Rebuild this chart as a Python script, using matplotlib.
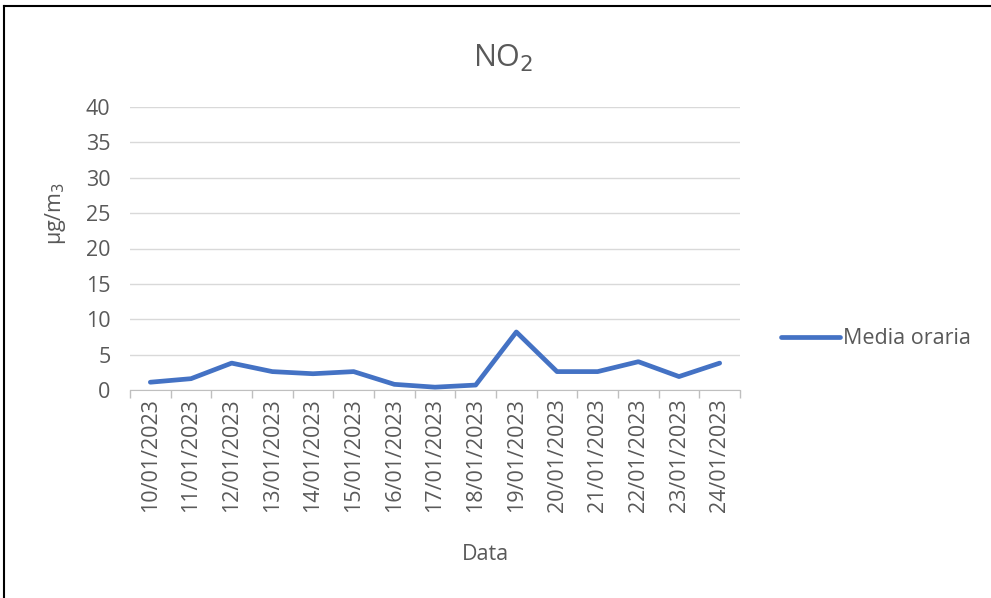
import numpy as np
import matplotlib.pyplot as plt
from matplotlib.lines import Line2D

dates = ["10/01/2023", "11/01/2023", "12/01/2023", "13/01/2023", "14/01/2023",
         "15/01/2023", "16/01/2023", "17/01/2023", "18/01/2023", "19/01/2023",
         "20/01/2023", "21/01/2023", "22/01/2023", "23/01/2023", "24/01/2023"]
media_oraria = [1.1, 1.6, 3.8, 2.6, 2.3, 2.6, 0.8, 0.4, 0.7, 8.2,
                2.6, 2.6, 4.0, 1.9, 3.8]
y_ticks = [0, 5, 10, 15, 20, 25, 30, 35, 40]

plt.rcParams["font.family"] = ["Open Sans", "DejaVu Sans"]
grey = "#595959"
fs = 15.5

fig = plt.figure(figsize=(9.91, 5.98), dpi=100)
ax = fig.add_axes([130 / 991, 1 - 390 / 598, 610 / 991, 283 / 598])

x = np.arange(len(dates))
ax.plot(x, media_oraria, color="#4472C4", linewidth=3.4,
        solid_joinstyle="round", solid_capstyle="round", label="Media oraria")

ax.set_xlim(-0.5, len(dates) - 0.5)
ax.set_ylim(0, 40)
ax.set_yticks(y_ticks)
ax.set_xticks(x)
ax.set_xticklabels(dates, rotation=90)
ax.set_xticks(np.arange(len(dates) + 1) - 0.5, minor=True)
ax.tick_params(axis="x", which="major", length=0, pad=6, labelsize=fs, labelcolor=grey)
ax.tick_params(axis="x", which="minor", length=6, color="#bfbfbf", width=1)
ax.tick_params(axis="y", length=0, pad=14, labelsize=fs, labelcolor=grey)

ax.grid(axis="y", color="#d9d9d9", linewidth=1)
ax.set_axisbelow(True)
for side in ["top", "right", "left"]:
    ax.spines[side].set_visible(False)
ax.spines["bottom"].set_color("#bfbfbf")
ax.spines["bottom"].set_zorder(0.5)

ax.set_xlabel("Data", fontsize=fs, color=grey)
ax.xaxis.set_label_coords((485 - 130) / 610, -(555 - 390) / 283)
ax.xaxis.label.set_va("center")
ax.set_ylabel("µg/m$_3$", fontsize=fs, color=grey)
ax.yaxis.set_label_coords(-(130 - 55) / 610, (390 - 213) / 283)
ax.yaxis.label.set_va("center")
fig.text(503 / 991, 1 - 58 / 598, "NO$_2$", ha="center", va="center",
         fontsize=22, color=grey)

ax.legend(loc="center left", bbox_to_anchor=(781 / 991, 1 - 339 / 598),
          bbox_transform=fig.transFigure, frameon=False, fontsize=fs,
          labelcolor=grey, handlelength=2.75, handletextpad=0.12,
          borderaxespad=0, borderpad=0)

# screenshot frame (left and top edges only)
fig.add_artist(Line2D([4 / 991, 4 / 991], [0, 1 - 6 / 598], color="black",
                      linewidth=1.5, transform=fig.transFigure))
fig.add_artist(Line2D([4 / 991, 1], [1 - 6 / 598, 1 - 6 / 598], color="black",
                      linewidth=1.5, transform=fig.transFigure))

fig.savefig("out.png", dpi=100)
